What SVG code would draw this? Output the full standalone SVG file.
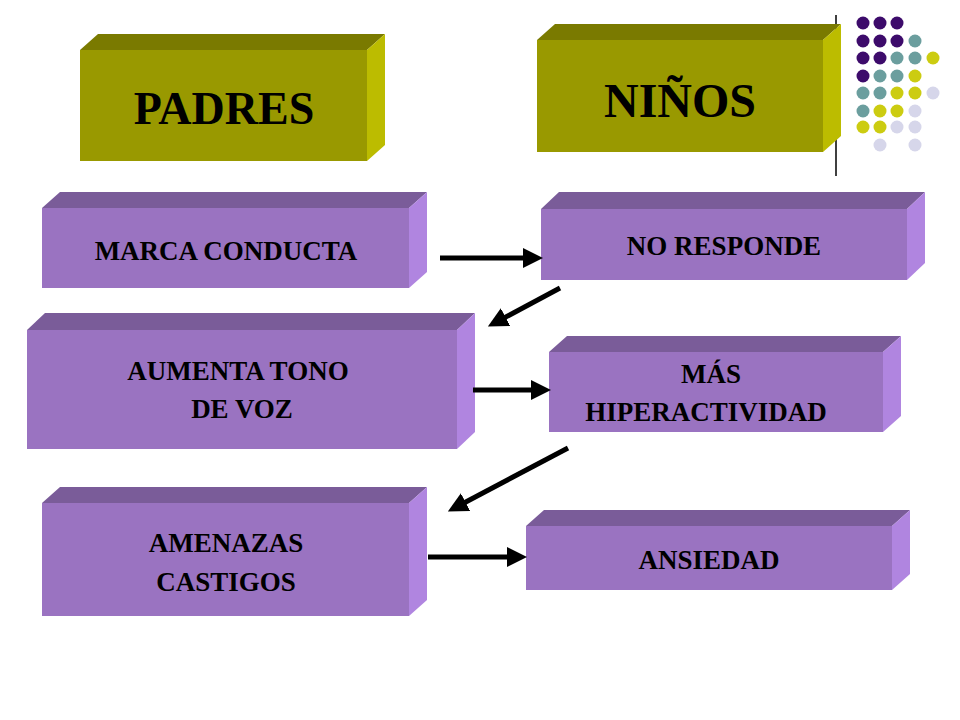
<svg xmlns="http://www.w3.org/2000/svg" width="960" height="720" viewBox="0 0 960 720">
<style>
.f{fill:#9a73c1}.t{fill:#7a5c99}.r{fill:#b085e0}
.yf{fill:#999900}.yt{fill:#7a7a00}.yr{fill:#bcbc00}
text{font-family:"Liberation Serif","Times New Roman",serif;font-weight:bold;fill:#000;text-anchor:middle}
.s{font-size:27px}
.c{stroke:#000;stroke-width:5;fill:none;marker-end:url(#ah)}
</style>
<defs>
<marker id="ah" viewBox="0 0 10 10" refX="2" refY="5" markerWidth="4" markerHeight="4" orient="auto" markerUnits="strokeWidth"><path d="M0,0L10,5L0,10z" fill="#000"/></marker>
</defs>
<rect width="960" height="720" fill="#fff"/>
<line x1="836" y1="15" x2="836" y2="176" stroke="#000" stroke-width="1.5"/>
<g id="dots">
<g fill="#3d0b6b"><circle cx="863" cy="23" r="6.5"/><circle cx="880" cy="23" r="6.5"/><circle cx="897" cy="23" r="6.5"/><circle cx="863" cy="41" r="6.5"/><circle cx="880" cy="41" r="6.5"/><circle cx="897" cy="41" r="6.5"/><circle cx="863" cy="58" r="6.5"/><circle cx="880" cy="58" r="6.5"/><circle cx="863" cy="76" r="6.5"/></g>
<g fill="#6b9e9e"><circle cx="915" cy="41" r="6.5"/><circle cx="897" cy="58" r="6.5"/><circle cx="915" cy="58" r="6.5"/><circle cx="880" cy="76" r="6.5"/><circle cx="897" cy="76" r="6.5"/><circle cx="863" cy="93" r="6.5"/><circle cx="880" cy="93" r="6.5"/><circle cx="863" cy="111" r="6.5"/></g>
<g fill="#cccc11"><circle cx="933" cy="58" r="6.5"/><circle cx="915" cy="76" r="6.5"/><circle cx="897" cy="93" r="6.5"/><circle cx="915" cy="93" r="6.5"/><circle cx="880" cy="111" r="6.5"/><circle cx="897" cy="111" r="6.5"/><circle cx="863" cy="127" r="6.5"/><circle cx="880" cy="127" r="6.5"/></g>
<g fill="#d6d6ea"><circle cx="933" cy="93" r="6.5"/><circle cx="915" cy="111" r="6.5"/><circle cx="897" cy="127" r="6.5"/><circle cx="915" cy="127" r="6.5"/><circle cx="880" cy="145" r="6.5"/><circle cx="915" cy="145" r="6.5"/></g>
</g>
<g id="padres">
<polygon class="yt" points="80,50 98,34 385,34 367,50"/><polygon class="yr" points="367,50 385,34 385,145 367,161"/><rect class="yf" x="80" y="50" width="287" height="111"/>
<text x="224" y="124" font-size="46">PADRES</text></g>
<g id="ninos">
<polygon class="yt" points="537,40 555,24 841,24 823,40"/><polygon class="yr" points="823,40 841,24 841,136 823,152"/><rect class="yf" x="537" y="40" width="286" height="112"/>
<text x="680" y="117" font-size="48">NIÑOS</text></g>
<g id="marca">
<polygon class="t" points="42,208 60,192 427,192 409,208"/><polygon class="r" points="409,208 427,192 427,272 409,288"/><rect class="f" x="42" y="208" width="367" height="80"/>
<text class="s" x="226" y="260">MARCA CONDUCTA</text></g>
<g id="noresponde">
<polygon class="t" points="541,209 559,192 925,192 907,209"/><polygon class="r" points="907,209 925,192 925,263 907,280"/><rect class="f" x="541" y="209" width="366" height="71"/>
<text class="s" x="724" y="255">NO RESPONDE</text></g>
<g id="aumenta">
<polygon class="t" points="27,330 45,313 475,313 457,330"/><polygon class="r" points="457,330 475,313 475,432 457,449"/><rect class="f" x="27" y="330" width="430" height="119"/>
<text class="s" x="238" y="380">AUMENTA TONO</text><text class="s" x="242" y="418">DE VOZ</text></g>
<g id="mas">
<polygon class="t" points="549,352 567,336 901,336 883,352"/><polygon class="r" points="883,352 901,336 901,416 883,432"/><rect class="f" x="549" y="352" width="334" height="80"/>
<text class="s" x="711" y="383">MÁS</text><text class="s" x="706" y="421">HIPERACTIVIDAD</text></g>
<g id="amenazas">
<polygon class="t" points="42,503 60,487 427,487 409,503"/><polygon class="r" points="409,503 427,487 427,600 409,616"/><rect class="f" x="42" y="503" width="367" height="113"/>
<text class="s" x="226" y="552">AMENAZAS</text><text class="s" x="226" y="591">CASTIGOS</text></g>
<g id="ansiedad">
<polygon class="t" points="526,526 544,510 910,510 892,526"/><polygon class="r" points="892,526 910,510 910,574 892,590"/><rect class="f" x="526" y="526" width="366" height="64"/>
<text class="s" x="709" y="569">ANSIEDAD</text></g>
<g id="connectors">
<line class="c" x1="440" y1="258" x2="527" y2="258"/>
<line class="c" x1="560" y1="288" x2="502" y2="319"/>
<line class="c" x1="473" y1="390" x2="535" y2="390"/>
<line class="c" x1="568" y1="448" x2="462" y2="504"/>
<line class="c" x1="428" y1="557" x2="511" y2="557"/>
</g>
</svg>
